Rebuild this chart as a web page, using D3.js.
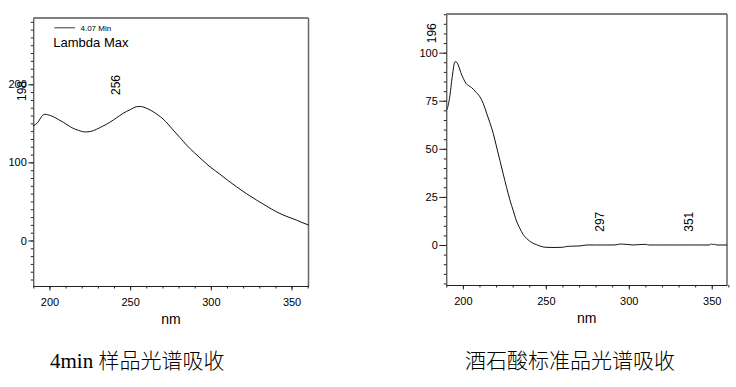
<!DOCTYPE html>
<html>
<head>
<meta charset="utf-8">
<script src="https://cdn.jsdelivr.net/npm/d3@7"></script>
<style>
  body { margin: 0; background: #fff; }
  svg text { font-family: "Liberation Sans", Arial, sans-serif; fill: #000; }
</style>
</head>
<body>
<div id="chart"></div>
<script>
// espectro muestra 4 min
const nmA = [190, 193.1, 195, 197.2, 199, 202.4, 205.5, 208.6, 211.5, 214.7, 218, 222, 225.5, 229.2, 233, 237.4, 241.5, 245.7, 250, 254, 256, 258, 261, 264.2, 267.3, 270.4, 273.5, 276.6, 280.8, 284.9, 290, 295.1, 300, 305.5, 310.5, 315.8, 322, 328.2, 334.5, 340.5, 346.5, 352.9, 356.5, 360.5];
const absA = [147, 152, 158.5, 161.6, 161, 158.5, 155, 151.3, 147.5, 143.6, 141, 139, 139.6, 142.4, 146.3, 151.3, 157, 162.9, 167.5, 171.3, 171.6, 171, 168.5, 165, 160.6, 155.6, 149, 141.5, 132, 122.3, 112, 102.2, 93.5, 85.1, 77, 68.9, 60, 51.9, 44, 36.9, 31.2, 26.2, 23, 19.8];

// espectro estandar acido tartarico
const nmB = [190, 190.8, 191.6, 192.4, 193.2, 194, 194.6, 195.2, 195.8, 196.5, 197.2, 198.2, 199.3, 200.6, 201.9, 203.6, 205.3, 207.5, 210.3, 212.3, 214.3, 216.3, 218.3, 220.3, 222.3, 224.3, 226.3, 228.3, 230.3, 232.3, 234.3, 236.3, 238.3, 240.3, 242.3, 244.3, 246.3, 250, 255, 260, 262.5, 266, 270.5, 274.5, 280, 285, 290.5, 293, 295, 297, 299, 302.6, 306, 308, 310.6, 312, 320, 330, 340, 348.5, 349.8, 350.8, 351.6, 352.4, 353.2, 359.2];
const absB = [70, 71.5, 74.6, 79, 85, 90, 93.6, 95.2, 95.3, 94.6, 93.6, 91, 88.4, 86, 84, 82.8, 81.8, 79.8, 77, 73.5, 68.5, 63.5, 58, 51, 44, 37, 30, 23.5, 18, 12.5, 8.7, 5.5, 3.5, 2, 0.9, 0.2, -0.5, -1.2, -1.3, -1.2, -0.8, -0.6, -0.5, 0, 0, 0, 0, 0.2, 0.5, 0.4, 0.3, 0, 0.2, 0.3, 0.3, 0, 0, 0, 0, 0, 0.5, 0.2, 0.4, 0.1, 0, 0];

// etiquetas de picos (longitud de onda, altura de la etiqueta)
const picosA = [198, 256];
const nivelA = [178.6, 186.3];
const picosB = [196, 297, 351];
const nivelB = [104.9, 6.9, 6.9];

const ticksX = [200, 250, 300, 350];
const ticksYA = [0, 100, 200];
const ticksYB = [0, 25, 50, 75, 100];

const svg = d3.select("#chart").append("svg")
    .attr("width", 736)
    .attr("height", 387);

function panel(cfg) {
    const x = d3.scaleLinear().domain(cfg.xDom).range([cfg.left, cfg.right]);
    const y = d3.scaleLinear().domain(cfg.yDom).range([cfg.bottom, cfg.top]);
    const g = svg.append("g");

    // ticks menores
    g.append("g")
        .attr("transform", "translate(0," + cfg.bottom + ")")
        .call(d3.axisBottom(x).tickValues(d3.range(190, 361, 10)).tickSize(2.5).tickSizeOuter(0).tickFormat(""))
        .call(s => s.select(".domain").remove());
    g.append("g")
        .attr("transform", "translate(" + cfg.left + ",0)")
        .call(d3.axisLeft(y).tickValues(cfg.minorY).tickSize(2.5).tickSizeOuter(0).tickFormat(""))
        .call(s => s.select(".domain").remove());

    // ejes principales
    const ax = g.append("g")
        .attr("transform", "translate(0," + cfg.bottom + ")")
        .call(d3.axisBottom(x).tickValues(ticksX).tickSize(4.5).tickPadding(7.5).tickSizeOuter(0));
    ax.selectAll("text").style("font-size", "11px");

    const ay = g.append("g")
        .attr("transform", "translate(" + cfg.left + ",0)")
        .call(d3.axisLeft(y).tickValues(cfg.majorY).tickSize(cfg.tickY).tickPadding(1.5).tickSizeOuter(0));
    ay.selectAll("text").style("font-size", "11px");

    g.selectAll(".tick line").attr("stroke", "#222");
    g.selectAll(".domain").attr("stroke", "#222");

    // marco superior y derecho
    g.append("line").attr("x1", cfg.left).attr("x2", cfg.right).attr("y1", cfg.top).attr("y2", cfg.top)
        .attr("stroke", "#555").attr("stroke-width", 1.3);
    g.append("line").attr("x1", cfg.right).attr("x2", cfg.right).attr("y1", cfg.top).attr("y2", cfg.bottom)
        .attr("stroke", "#666").attr("stroke-width", 1.5);

    // curva
    const datos = cfg.nm.map((d, i) => [d, cfg.abs[i]]);
    g.append("path")
        .datum(datos)
        .attr("fill", "none")
        .attr("stroke", "#111")
        .attr("stroke-width", 1)
        .attr("d", d3.line().x(d => x(d[0])).y(d => y(d[1])).curve(d3.curveMonotoneX));

    // etiquetas de picos
    cfg.picos.forEach((p, i) => {
        const px = x(p) - 20, py = y(cfg.nivel[i]);
        g.append("text")
            .attr("transform", "translate(" + px + "," + py + ") rotate(-90)")
            .style("font-size", "12px")
            .text(p);
    });

    // titulo eje x
    g.append("text")
        .attr("x", (cfg.left + cfg.right) / 2)
        .attr("y", cfg.bottom + 38)
        .attr("text-anchor", "middle")
        .style("font-size", "14px")
        .text("nm");

    // leyenda inferior
    g.append("text")
        .attr("x", cfg.capX)
        .attr("y", 368)
        .style("font-family", "'Liberation Serif', 'Noto Sans CJK SC', serif")
        .style("font-size", "21px")
        .style("font-weight", "300")
        .text(cfg.caption);

    return { g, x, y };
}

const a = panel({
    left: 33.3, right: 308.5, top: 18, bottom: 286,
    xDom: [190, 360.5], yDom: [-58.3, 284.9],
    majorY: ticksYA, minorY: d3.range(-50, 281, 10), tickY: 5,
    nm: nmA, abs: absA, picos: picosA, nivel: nivelA,
    caption: "4min 样品光谱吸收", capX: 50
});

// leyenda superior del primer grafico
a.g.append("line").attr("x1", 54.3).attr("x2", 75).attr("y1", 27.7).attr("y2", 27.7)
    .attr("stroke", "#777").attr("stroke-width", 1.5);
a.g.append("text").attr("x", 80.5).attr("y", 31).style("font-size", "8px").text("4.07 Min");
a.g.append("text").attr("x", 53.3).attr("y", 47.3).style("font-size", "13px").text("Lambda Max");

panel({
    left: 446.3, right: 727, top: 14, bottom: 285,
    xDom: [190, 359.2], yDom: [-20.8, 120.1],
    majorY: ticksYB, minorY: d3.range(-20, 121, 5), tickY: 7,
    nm: nmB, abs: absB, picos: picosB, nivel: nivelB,
    caption: "酒石酸标准品光谱吸收", capX: 465
});
</script>
</body>
</html>
